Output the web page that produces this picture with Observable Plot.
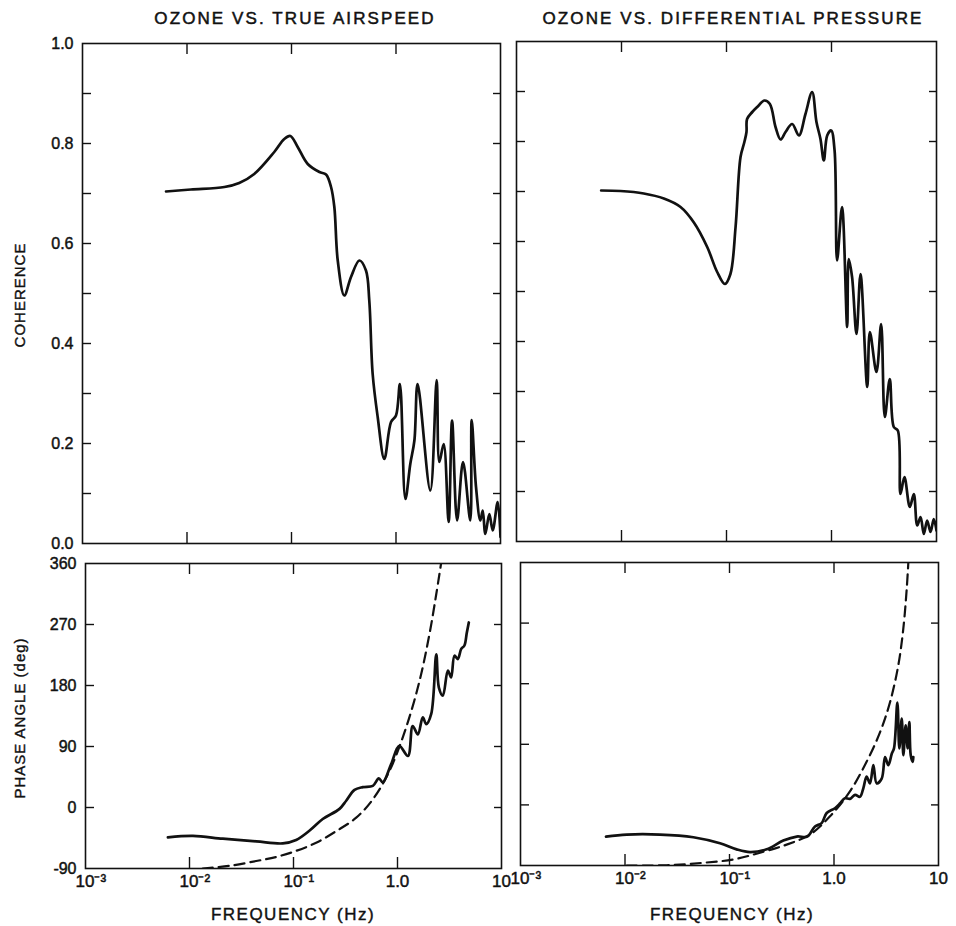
<!DOCTYPE html>
<html><head><meta charset="utf-8">
<script src="https://cdn.jsdelivr.net/npm/d3@7"></script>
<script src="https://cdn.jsdelivr.net/npm/@observablehq/plot@0.6"></script>
<style>
body{margin:0;background:#fff;}
#fig{position:relative;width:956px;height:926px;background:#fff;font-family:"Liberation Sans",Arial,sans-serif;color:#111;overflow:hidden;}
.panel{position:absolute;}
.panel svg{overflow:visible;}
.panel text{paint-order:stroke;stroke:#111;stroke-width:0.45px;}
.title{position:absolute;font-size:17px;letter-spacing:2.1px;white-space:nowrap;transform:translate(-50%,-50%);-webkit-text-stroke:0.5px #111;}
.xlab{position:absolute;font-size:17px;letter-spacing:1.5px;white-space:nowrap;transform:translate(-50%,-50%);-webkit-text-stroke:0.4px #111;}
.ylab{position:absolute;font-size:15px;letter-spacing:1px;white-space:nowrap;transform:translate(-50%,-50%) rotate(-90deg);-webkit-text-stroke:0.4px #111;}
</style>
</head><body>
<div id="fig">
  <div class="title" style="left:295px;top:19px">OZONE VS. TRUE AIRSPEED</div>
  <div class="title" style="left:733px;top:19px">OZONE VS. DIFFERENTIAL PRESSURE</div>
  <div class="ylab" style="left:19px;top:295px">COHERENCE</div>
  <div class="ylab" style="left:19px;top:718px">PHASE ANGLE (deg)</div>
  <div class="xlab" style="left:293px;top:915px">FREQUENCY (Hz)</div>
  <div class="xlab" style="left:732px;top:915px">FREQUENCY (Hz)</div>
</div>
<script>
// ---------- data ----------
const xTickValues = [0.001, 0.01, 0.1, 1, 10];
const xTickLabels = ["10\u207B\u00B3", "10\u207B\u00B2", "10\u207B\u00B9", "1.0", "10"];
const cohTicks = [0.1, 0.2, 0.3, 0.4, 0.5, 0.6, 0.7, 0.8, 0.9];
const cohLabels = [0, 0.2, 0.4, 0.6, 0.8, 1.0];
const phaseTicks = [0, 90, 180, 270];
const phaseLabels = [-90, 0, 90, 180, 270, 360];

// Ozone vs true airspeed: coherence
const tasCohFreq = [0.0063,0.0109,0.0228,0.0316,0.044,0.0684,0.0853,0.0975,0.1146,0.143,0.185,0.214,0.239,0.257,0.277,0.32,0.371,0.446,0.516,0.555,0.598,0.668,0.773,0.896,1.0,1.09,1.23,1.37,1.50,1.61,2.13,2.45,2.60,2.86,3.19,3.44,3.84,4.38,5.14,5.30,5.83,6.41,6.76,7.16,7.82,8.42,9.40,10];
const tasCoh = [0.704,0.708,0.713,0.721,0.739,0.783,0.809,0.815,0.793,0.759,0.743,0.738,0.713,0.673,0.566,0.496,0.533,0.566,0.546,0.486,0.339,0.253,0.169,0.243,0.256,0.319,0.089,0.159,0.206,0.319,0.106,0.327,0.163,0.199,0.043,0.246,0.046,0.163,0.046,0.247,0.113,0.046,0.066,0.019,0.059,0.026,0.083,0.013];

// Ozone vs differential pressure: coherence
const dpCohFreq = [0.0064,0.00977,0.0163,0.0253,0.0365,0.0489,0.0655,0.0815,0.0964,0.109,0.122,0.136,0.148,0.155,0.157,0.176,0.196,0.230,0.259,0.293,0.327,0.365,0.422,0.489,0.565,0.654,0.719,0.785,0.845,0.910,0.993,1.07,1.13,1.26,1.41,1.46,1.57,1.73,1.89,2.19,2.32,2.68,2.97,3.22,3.59,3.92,4.28,4.54,4.95,5.57,6.08,6.55,7.05,7.57,8.15,8.77,9.42,10];
const dpCoh = [0.702,0.701,0.696,0.686,0.669,0.638,0.589,0.539,0.515,0.535,0.629,0.769,0.799,0.819,0.845,0.859,0.869,0.882,0.875,0.829,0.804,0.819,0.835,0.812,0.855,0.899,0.839,0.805,0.762,0.812,0.822,0.782,0.562,0.669,0.429,0.565,0.529,0.415,0.535,0.309,0.419,0.339,0.435,0.249,0.325,0.229,0.222,0.095,0.129,0.069,0.095,0.032,0.049,0.015,0.042,0.019,0.045,0.022];

// Ozone vs true airspeed: phase (measured, solid)
const tasPhaseFreq = [0.0062,0.0108,0.0209,0.0438,0.0789,0.106,0.143,0.191,0.277,0.321,0.386,0.464,0.579,0.661,0.722,0.869,1.04,1.26,1.40,1.57,1.75,1.89,2.11,2.36,2.50,2.73,3.05,3.28,3.53,3.80,4.10,4.40,4.64,4.85];
const tasPhase = [-44,-42,-46,-50,-53,-48,-34,-17,-2,10,26,30,32,43,37,64,91,76,120,108,133,123,138,226,177,165,202,192,224,219,234,239,258,273];
// Ozone vs true airspeed: phase (reference, dashed)
const tasRefFreq = [0.0134,0.0243,0.0438,0.068,0.106,0.165,0.257,0.401,0.579,0.838,1.21,1.63,2.03,2.36,2.63];
const tasRef = [-90,-86,-79,-73,-64,-52,-35,-15,12,54,118,187,256,315,361];

// Ozone vs differential pressure: phase (measured, solid)
const dpPhaseFreq = [0.00658,0.0104,0.0216,0.0451,0.0811,0.117,0.157,0.227,0.327,0.44,0.555,0.658,0.762,0.851,1.02,1.14,1.27,1.42,1.59,1.77,1.91,2.05,2.21,2.38,2.56,2.86,3.08,3.31,3.57,3.75,4.04,4.22,4.45,4.61,4.85,5.07,5.26,5.42,5.66,5.74];
const dpPhase = [-47,-44,-44,-48,-57,-66,-70,-66,-53,-47,-47,-32,-27,-12,-5,2,10,9,15,12,25,42,32,59,32,39,71,59,76,84,152,84,128,74,118,84,123,74,64,71];
// Ozone vs differential pressure: phase (reference, dashed)
const dpRefFreq = [0.0104,0.0251,0.0561,0.109,0.196,0.352,0.589,0.916,1.42,2.05,2.76,3.43,4.12,4.60,4.96,5.14];
const dpRef = [-90,-89.6,-86,-81,-71,-59,-44,-17,20,64,108,152,207,261,320,359];

// ---------- drawing ----------
const FONT = '"Liberation Sans", Arial, sans-serif';
const INK = "#111";
const zipXY = (xs, ys) => xs.map((f, i) => ({f, v: ys[i]}));

function panel(o) {
  const fw = o.width - o.ml - o.mr, fh = o.height - o.mt - o.mb;
  const marks = [
    Plot.frame({stroke: INK, strokeWidth: 1.6}),
    Plot.tickY(o.yTicks, {y: d => d, insetRight: fw - 9, stroke: INK, strokeWidth: 1.4}),
    Plot.tickY(o.yTicks, {y: d => d, insetLeft: fw - 7, stroke: INK, strokeWidth: 1.4}),
    Plot.tickX([0.01, 0.1, 1], {x: d => d, insetBottom: fh - 11, stroke: INK, strokeWidth: 1.4}),
    Plot.tickX([0.01, 0.1, 1], {x: d => d, insetTop: fh - 11, stroke: INK, strokeWidth: 1.4})
  ];
  if (o.yLabels) {
    marks.push(Plot.text(o.yLabels, {y: d => d, text: o.yFmt, frameAnchor: "left", textAnchor: "end", dx: -9, fontSize: 16, fill: INK}));
  }
  if (o.xLabels) {
    const pow = xTickValues.slice(0, 3), plain = xTickValues.slice(3);
    const lab = d => xTickLabels[xTickValues.indexOf(d)];
    marks.push(Plot.text(pow, {x: d => d, text: lab, frameAnchor: "bottom", dy: 18, dx: -10, textAnchor: "start", fontSize: 17, fill: INK}));
    marks.push(Plot.text(plain, {x: d => d, text: lab, frameAnchor: "bottom", dy: 18, textAnchor: "middle", fontSize: 17, fill: INK}));
  }
  for (const s of o.series) {
    marks.push(Plot.line(s.data, {x: "f", y: "v", curve: "catmull-rom", stroke: INK,
      strokeWidth: s.dashed ? 2.2 : 2.7, strokeDasharray: s.dashed ? "10,6" : null,
      strokeLinejoin: "round", clip: true}));
  }
  const chart = Plot.plot({
    width: o.width, height: o.height,
    marginLeft: o.ml, marginRight: o.mr, marginTop: o.mt, marginBottom: o.mb,
    x: {type: "log", domain: [1e-3, 10], axis: null},
    y: {domain: o.yDomain, axis: null},
    style: {fontFamily: FONT, fontSize: "15px", color: INK, background: "transparent", overflow: "visible"},
    marks
  });
  const div = document.createElement("div");
  div.className = "panel";
  div.style.left = o.left + "px";
  div.style.top = o.top + "px";
  div.appendChild(chart);
  document.getElementById("fig").appendChild(div);
}

const fmtCoh = d => d3.format(".1f")(d);
const fmtPh = d => String(d);

panel({left: 0, top: 0, width: 510, height: 556, ml: 82, mr: 10, mt: 43, mb: 13,
  yDomain: [0, 1], yTicks: cohTicks, yLabels: cohLabels, yFmt: fmtCoh,
  series: [{data: zipXY(tasCohFreq, tasCoh)}]});
panel({left: 506, top: 0, width: 450, height: 556, ml: 10, mr: 20, mt: 41, mb: 15,
  yDomain: [0, 1], yTicks: cohTicks,
  series: [{data: zipXY(dpCohFreq, dpCoh)}]});
panel({left: 0, top: 550, width: 510, height: 376, ml: 85, mr: 9, mt: 13, mb: 58,
  yDomain: [-90, 360], yTicks: phaseTicks, yLabels: phaseLabels, yFmt: fmtPh, xLabels: true,
  series: [{data: zipXY(tasPhaseFreq, tasPhase)}, {data: zipXY(tasRefFreq, tasRef), dashed: true}]});
panel({left: 506, top: 550, width: 450, height: 376, ml: 14, mr: 18, mt: 12, mb: 61,
  yDomain: [-90, 360], yTicks: phaseTicks, xLabels: true,
  series: [{data: zipXY(dpPhaseFreq, dpPhase)}, {data: zipXY(dpRefFreq, dpRef), dashed: true}]});
</script>
</body></html>
